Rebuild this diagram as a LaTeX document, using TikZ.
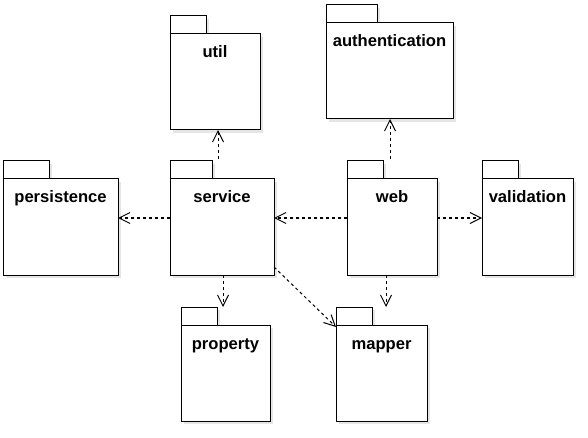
\documentclass[tikz,border=0pt]{standalone}
\usepackage{fontspec}
\setmainfont{Liberation Sans}
\usetikzlibrary{arrows.meta,calc}
\definecolor{shadowc}{gray}{0.90}
\tikzset{
  pkgline/.style={draw=black,line width=1pt},
  pkgbody/.style={draw=black,fill=white,line width=1pt,inner sep=0pt,outer sep=0pt},
  pkglabel/.style={anchor=base,inner sep=0pt,font=\fontsize{16.6}{20}\selectfont\bfseries},
  dep/.style={draw=black,line width=1pt,dash pattern=on 3pt off 3pt,
    -{Straight Barb[length=11pt,width=11pt,line width=1pt]}},
}
\newcommand\pkgbox[7]{%
  \fill[shadowc] (#2+3,#3-15) rectangle ++(#6,18);
  \fill[shadowc] (#2+3,#3+3) rectangle ++(#4,#5);
  \draw[pkgline,fill=white] (#2,#3-18) rectangle ++(#6,18);
  \node[pkgbody,minimum width=#4pt,minimum height=#5pt,anchor=north west] (#1) at (#2,#3) {};
  \node[pkglabel] (#1-l) at ([yshift=-24pt]#1.north) {#7};
}
\begin{document}
\begin{tikzpicture}[x=1pt,y=-1pt]
\useasboundingbox[fill=white] (0,0) rectangle (588,438);
\pkgbox{util}{170}{34}{90}{96}{36}{util}
\pkgbox{auth}{326}{23}{127}{96}{51}{authentication}
\pkgbox{pers}{3}{179}{115}{96}{46}{persistence}
\pkgbox{svc}{170}{179}{104}{96}{42}{service}
\pkgbox{web}{347}{179}{90}{96}{36}{web}
\pkgbox{val}{482}{179}{91}{96}{36}{validation}
\pkgbox{prop}{181}{325}{89}{96}{36}{property}
\pkgbox{mapper}{336}{325}{91}{96}{36}{mapper}
% connectors
\draw[dep] ([yshift=9pt]svc.west) -- ([yshift=9pt]pers.east);
\draw[dep] ([yshift=9pt]web.west) -- ([yshift=9pt]svc.east);
\draw[dep] ([yshift=9pt]web.east) -- ([yshift=9pt]val.west);
\coordinate (su) at ([xshift=-4pt,yshift=20pt]svc.north);
\draw[dep] (su) -- (su |- util.south);
\coordinate (wa) at ([xshift=-2pt,yshift=20pt]web.north);
\draw[dep] (wa) -- (wa |- auth.south);
\coordinate (propTop) at ([yshift=18pt]prop.north);
\coordinate (sp) at ([xshift=1pt]svc.south);
\draw[dep] (sp) -- (sp |- propTop);
\coordinate (mapTop) at ([yshift=18pt]mapper.north);
\coordinate (wm) at ([xshift=-6pt]web.south);
\draw[dep] (wm) -- (wm |- mapTop);
\draw[dep] ([yshift=8pt]svc.south east) -- ([yshift=-2pt]mapper.north west);
\end{tikzpicture}
\end{document}
